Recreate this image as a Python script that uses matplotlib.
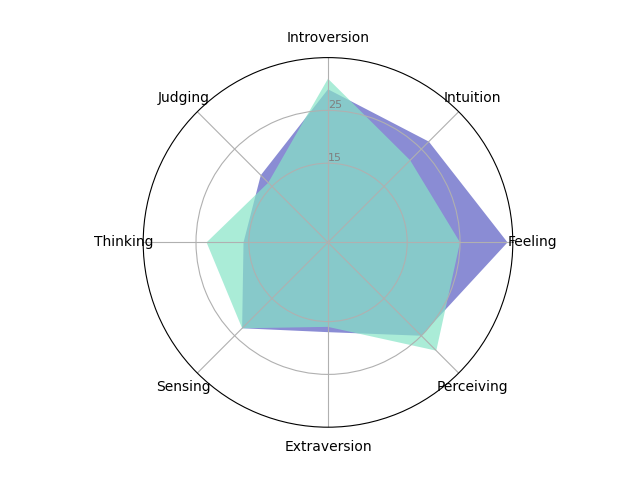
import numpy as np
import matplotlib
matplotlib.use("Agg")
import matplotlib.pyplot as plt

categories = ["Feeling", "Intuition", "Introversion", "Judging",
              "Thinking", "Sensing", "Extraversion", "Perceiving"]
series_a = [34, 27, 29, 18, 16, 23, 17, 25]
series_b = [25, 22, 31, 16, 23, 23, 16, 29]
r_ticks = [15, 25]

n = len(categories)
angles = np.linspace(0, 2 * np.pi, n, endpoint=False)
ang_closed = np.concatenate([angles, angles[:1]])

fig = plt.figure(figsize=(6.4, 4.8), dpi=100)
ax = fig.add_subplot(111, projection="polar")

a = np.array(series_a + series_a[:1])
b = np.array(series_b + series_b[:1])
ax.fill(ang_closed, a, color="#585bc2", alpha=0.7, linewidth=0)
ax.fill(ang_closed, b, color="#86e4c7", alpha=0.7, linewidth=0)

ax.set_xticks(angles)
ax.set_xticklabels(categories, fontsize=10)
ax.set_ylim(0, 35)
ax.set_yticks(r_ticks)
ax.set_yticklabels([str(t) for t in r_ticks], color="grey", fontsize=8)
ax.set_rlabel_position(90)
ax.grid(True, color="#b0b0b0")

fig.savefig("out.png", dpi=100)
